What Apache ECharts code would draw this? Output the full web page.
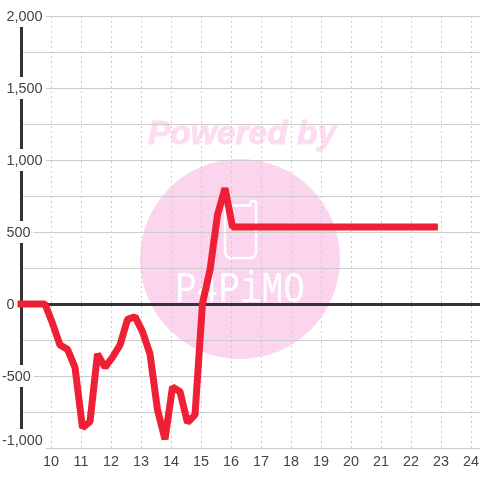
<!DOCTYPE html>
<html>
<head>
<meta charset="utf-8">
<style>
  html, body { margin: 0; padding: 0; background: #fff; }
  #chart { width: 480px; height: 480px; }
</style>
<script src="https://cdn.jsdelivr.net/npm/echarts@6/dist/echarts.min.js"></script>
</head>
<body>
<div id="chart"></div>
<script>
const hours = [9, 9.3, 9.55, 9.8, 10.05, 10.3, 10.55, 10.8, 11.05, 11.3, 11.55, 11.8, 12.05, 12.3, 12.55, 12.8, 13.05, 13.3, 13.55, 13.8, 14.05, 14.3, 14.55, 14.8, 15.05, 15.3, 15.55, 15.8, 16.05, 22.78];
const profit = [0, 0, 0, 0, -134, -285, -315, -440, -860, -817, -347, -440, -370, -285, -107, -88, -192, -347, -736, -940, -576, -609, -824, -770, 5, 236, 618, 805, 535, 535];

const textColor = '#444';
const gridColor = '#ccc';
const pink = '#fbd5ed';
const fontSize = 14.4;

// outline of the phone in the watermark
const phoneOutline = [[228, 205.5], [250, 205.5], [251, 202], [253, 200.5], [255, 201], [256, 203], [256, 253], [254.5, 256.5], [251, 258], [230, 258], [226.5, 256.5], [225, 253], [225, 208.5], [226, 206.5]];

const chart = echarts.init(document.getElementById('chart'));

chart.setOption({
    animation: false,
    grid: { left: 21, right: 0, top: 16, bottom: 32, outerBoundsMode: 'none' },
    graphic: [
        { type: 'circle', z: -10, shape: { cx: 240, cy: 259, r: 100 }, style: { fill: pink } },
        { type: 'text', z: -10, x: 242, y: 135, style: { text: 'Powered by', fill: '#fddcf0', stroke: '#fddcf0', lineWidth: 1, font: 'italic bold 33.5px "Liberation Sans"', align: 'center', verticalAlign: 'middle' } },
        { type: 'polygon', z: -9, shape: { points: phoneOutline }, style: { fill: 'none', stroke: '#fff', lineWidth: 2.5, lineJoin: 'round' } },
        { type: 'text', z: -9, x: 240, y: 290, scaleX: 0.8, style: { text: 'P4PiMO', fill: '#fff', font: '45px "Liberation Mono"', align: 'center', verticalAlign: 'middle' } }
    ],
    xAxis: [
        {
            type: 'value',
            min: 9,
            max: 24.3,
            interval: 1,
            position: 'bottom',
            axisLine: { show: false, onZero: false },
            axisTick: { show: false },
            axisLabel: { color: textColor, fontFamily: 'Liberation Sans', fontSize: fontSize, margin: 7, showMinLabel: false, showMaxLabel: false },
            splitLine: { show: true, lineStyle: { color: gridColor, type: [2, 3], width: 1 } }
        },
        {
            type: 'value',
            min: 9,
            max: 24.3,
            interval: 1,
            position: 'bottom',
            axisLine: { show: true, onZero: true, lineStyle: { color: '#333', width: 3 } },
            axisTick: { show: false },
            axisLabel: { show: false },
            splitLine: { show: false }
        }
    ],
    yAxis: {
        type: 'value',
        min: -1000,
        max: 2000,
        interval: 250,
        axisLine: { show: true, onZero: false, lineStyle: { color: '#333', width: 3 } },
        axisTick: { show: false },
        axisLabel: {
            inside: true,
            margin: -19,
            align: 'left',
            verticalAlignMinLabel: 'bottom',
            color: textColor,
            fontFamily: 'Liberation Sans',
            fontSize: fontSize,
            backgroundColor: '#fff',
            borderColor: '#fff',
            borderWidth: 3,
            formatter: function (v) {
                if (v % 500 !== 0) return '';
                const s = v.toLocaleString('en-US');
                return v < 0 ? '{n|' + s + '}' : '{p|' + s + '}';
            },
            rich: {
                n: { color: textColor, fontFamily: 'Liberation Sans', fontSize: fontSize, padding: [2, 0, 0, 0] },
                p: { color: textColor, fontFamily: 'Liberation Sans', fontSize: fontSize, padding: [2, 0, 0, 4.5] }
            }
        },
        splitLine: { show: true, lineStyle: { color: gridColor, width: 1 } }
    },
    series: [
        {
            type: 'line',
            xAxisIndex: 0,
            data: hours.map((h, i) => [h, profit[i]]),
            showSymbol: false,
            symbol: 'none',
            clip: false,
            lineStyle: { color: '#ef2035', width: 7, cap: 'square', join: 'bevel' }
        }
    ]
});
</script>
</body>
</html>
